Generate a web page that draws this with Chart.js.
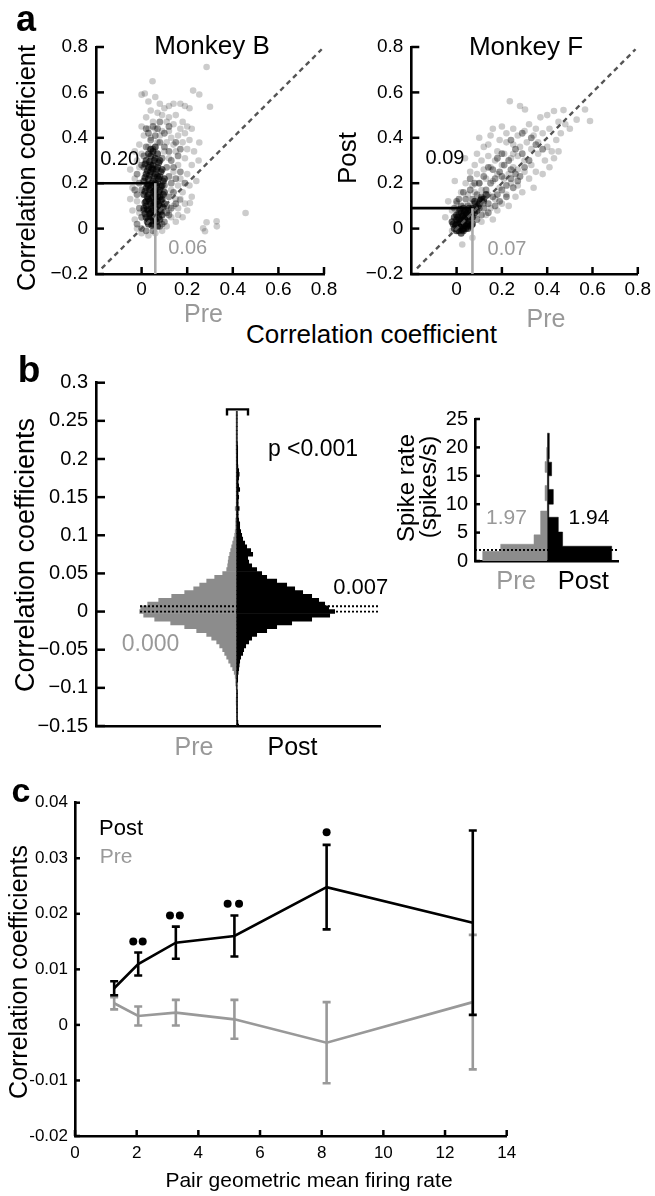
<!DOCTYPE html>
<html><head><meta charset="utf-8">
<script src="https://cdn.jsdelivr.net/npm/chart.js@4.4.1/dist/chart.umd.min.js"></script>
<style>
html,body{margin:0;padding:0;background:#fff;}
body{width:655px;height:1196px;position:relative;overflow:hidden;font-family:'Liberation Sans',Arial,Helvetica,sans-serif;}
canvas{position:absolute;}
.t{position:absolute;white-space:nowrap;line-height:1;}
</style></head><body>
<canvas id="cA1" width="345" height="305" style="left:0;top:0"></canvas>
<canvas id="cA2" width="325" height="305" style="left:330px;top:0"></canvas>
<canvas id="cB" width="400" height="400" style="left:0;top:360px"></canvas>
<canvas id="cI" width="220" height="180" style="left:420px;top:400px"></canvas>
<canvas id="cC" width="540" height="416" style="left:0;top:780px"></canvas>
<script>
// ---------------- DATA ----------------
// Panel a: Monkey B (x = Pre, y = Post correlation coefficient)
const bHalo = [[0.285,0.712],[0.048,0.649],[0.014,0.595],[0.226,0.608],[0.253,0.591],[0.30,0.537],[0.253,0.379],[0.456,0.069],[0.285,0.028],[0.329,0.032],[0.27,0.001],[0.278,-0.012],[0.33,0.01],[0.212,0.113],[0.168,0.126],
[0.0,0.59],[0.03,0.56],[0.06,0.58],[0.08,0.55],[0.1,0.53],[0.12,0.54],[0.14,0.55],[0.17,0.55],[0.19,0.54],[0.21,0.53],[0.04,0.52],[0.07,0.51],[0.09,0.5],[0.12,0.49],[0.15,0.5],[0.18,0.47],[0.2,0.45],[0.02,0.49],[0.05,0.47],[0.11,0.47],[0.14,0.46],[0.17,0.44],[0.19,0.42],[0.22,0.44],[0.16,0.41],[0.21,0.39],[0.0,0.45],[0.03,0.44],[0.06,0.44],[0.09,0.43],[0.12,0.43],[0.01,0.41],[0.04,0.4],[0.08,0.41],[0.13,0.4],[0.18,0.38],[0.2,0.35],[0.23,0.34],[0.19,0.31],[0.22,0.28],[0.2,0.24],[0.17,0.22],[0.21,0.19],[0.18,0.16],[0.22,0.14],[0.19,0.11],[0.16,0.09],[0.15,0.13],[0.13,0.05],[0.15,0.03],[0.11,0.01],[0.09,-0.01],[0.06,-0.02],[0.03,-0.03],[0.0,-0.02],[-0.02,0.0],[-0.03,0.04],[-0.04,0.08],[-0.05,0.13],[-0.04,0.18],[-0.03,0.22],[-0.05,0.26],[-0.02,0.3],[-0.03,0.34],[-0.01,0.37],[0.0,0.33],[-0.01,0.27],[-0.02,0.12],[-0.01,0.07],[0.15,0.34],[0.16,0.28],[0.14,0.25],[0.16,0.19],[0.13,0.17],[0.17,0.13],[0.14,0.1],[0.12,0.08],[0.16,0.06],[0.18,0.05],[0.2,0.08],[0.24,0.21],[0.25,0.3],[0.03,0.36],[0.07,0.38],[0.11,0.38],[0.14,0.37],[0.05,0.33],[0.1,0.34],[0.12,0.31]];
const bMid = [[-0.02,0.02],[0.0,0.05],[-0.01,0.09],[-0.02,0.15],[-0.01,0.2],[-0.02,0.24],[0.0,0.28],[0.01,0.32],[0.02,0.36],[0.04,0.39],[0.06,0.41],[0.08,0.38],[0.1,0.36],[0.12,0.34],[0.13,0.3],[0.14,0.27],[0.12,0.23],[0.13,0.2],[0.12,0.14],[0.11,0.1],[0.12,0.06],[0.1,0.03],[0.08,0.01],[0.05,-0.01],[0.02,-0.01],[0.0,0.0],[0.03,0.42],[0.07,0.44],[0.1,0.42],[0.05,0.35],[0.09,0.31],[0.11,0.27],[0.1,0.19],[0.11,0.07],[0.09,0.02],[0.01,0.27],[0.0,0.17],[0.01,0.08],[0.15,0.22],[0.14,0.16],[0.15,0.11],[0.13,0.09],[0.16,0.32],[0.08,0.47],[0.05,0.45],[0.12,0.45],[0.15,0.38],[0.17,0.35],[0.17,0.25],[0.19,0.2],[-0.03,0.17],[0.02,0.44]];
const bCore = [[0.02,0.3],[0.04,0.32],[0.06,0.31],[0.08,0.3],[0.03,0.27],[0.05,0.28],[0.07,0.27],[0.09,0.26],[0.02,0.24],[0.04,0.25],[0.06,0.24],[0.08,0.23],[0.1,0.22],[0.01,0.21],[0.03,0.22],[0.05,0.21],[0.07,0.2],[0.09,0.19],[0.02,0.18],[0.04,0.18],[0.06,0.17],[0.08,0.17],[0.1,0.16],[0.01,0.15],[0.03,0.15],[0.05,0.14],[0.07,0.14],[0.09,0.13],[0.02,0.12],[0.04,0.11],[0.06,0.11],[0.08,0.1],[0.1,0.11],[0.01,0.09],[0.03,0.08],[0.05,0.08],[0.07,0.07],[0.09,0.06],[0.02,0.05],[0.04,0.05],[0.06,0.04],[0.08,0.04],[0.03,0.02],[0.05,0.02],[0.07,0.01],[0.04,0.35],[0.06,0.36],[0.05,0.19],[0.03,0.13],[0.06,0.06],[0.05,0.26],[0.07,0.23],[0.04,0.07],[0.06,0.15],[0.08,0.08],[0.02,0.1],[0.05,0.1],[0.07,0.12],[0.03,0.19],[0.05,0.16],[0.04,0.28],[0.06,0.2],[0.08,0.14],[0.03,0.04],[0.05,0.05],
[0.015,0.285],[0.035,0.295],[0.055,0.3],[0.075,0.29],[0.025,0.255],[0.045,0.265],[0.065,0.26],[0.085,0.25],[0.015,0.225],[0.035,0.235],[0.055,0.23],[0.075,0.22],[0.095,0.21],[0.025,0.195],[0.045,0.2],[0.065,0.19],[0.085,0.185],[0.015,0.165],[0.035,0.17],[0.055,0.165],[0.075,0.16],[0.095,0.15],[0.025,0.14],[0.045,0.135],[0.065,0.13],[0.085,0.125],[0.015,0.115],[0.035,0.12],[0.055,0.115],[0.075,0.105],[0.095,0.095],[0.025,0.085],[0.045,0.09],[0.065,0.085],[0.085,0.075],[0.015,0.065],[0.035,0.065],[0.055,0.06],[0.075,0.05],[0.045,0.035],[0.065,0.03],[0.025,0.03],[0.045,0.015],[0.05,0.34],[0.03,0.33],[0.07,0.33]];
const bMeans = {pre: 0.06, post: 0.20};

// Panel a: Monkey F
const fHalo = [[0.235,0.561],[0.302,0.525],[0.28,0.54],[0.589,0.474],[0.567,0.525],[0.472,0.522],[0.43,0.518],[0.4,0.5],[0.48,0.46],[0.45,0.47],[0.37,0.49],[0.34,0.41],[0.44,0.39],[0.34,0.18],[0.43,0.31],[0.38,0.24],[0.1,0.4],[0.15,0.41],[0.16,0.44],[0.12,0.36],[0.037,0.31],[-0.008,0.21],[-0.037,0.12],[-0.05,0.05],[-0.02,-0.01],[0.025,-0.07],[0.07,-0.04],
[0.2,0.45],[0.22,0.42],[0.25,0.44],[0.27,0.41],[0.3,0.43],[0.32,0.46],[0.35,0.44],[0.38,0.42],[0.41,0.44],[0.36,0.38],[0.4,0.36],[0.42,0.34],[0.39,0.3],[0.36,0.33],[0.33,0.35],[0.31,0.38],[0.28,0.36],[0.25,0.37],[0.22,0.38],[0.19,0.39],[0.18,0.34],[0.21,0.33],[0.24,0.31],[0.27,0.32],[0.3,0.3],[0.33,0.28],[0.35,0.25],[0.32,0.22],[0.3,0.25],[0.27,0.26],[0.25,0.27],[0.23,0.24],[0.2,0.28],[0.17,0.3],[0.14,0.32],[0.11,0.3],[0.08,0.28],[0.06,0.25],[0.09,0.24],[0.12,0.26],[0.15,0.27],[0.18,0.24],[0.21,0.22],[0.24,0.2],[0.27,0.19],[0.29,0.16],[0.26,0.14],[0.22,0.15],[0.19,0.18],[0.16,0.21],[0.13,0.22],[0.1,0.2],[0.07,0.19],[0.04,0.2],[0.02,0.16],[0.05,0.15],[0.08,0.16],[0.11,0.17],[0.14,0.15],[0.17,0.13],[0.2,0.11],[0.23,0.1],[0.18,0.08],[0.15,0.09],[0.12,0.11],[0.09,0.12],[0.06,0.11],[0.03,0.1],[0.0,0.11],[-0.02,0.08],[0.13,0.06],[0.16,0.04],[0.11,0.03],[0.08,0.06],[0.25,0.33],[0.5,0.44],[0.46,0.42],[0.53,0.48],[0.14,0.37],[0.09,0.33],[0.45,0.34],[0.41,0.27]];
const fMid = [[0.05,0.1],[0.08,0.11],[0.1,0.09],[0.12,0.12],[0.14,0.11],[0.16,0.14],[0.18,0.15],[0.2,0.17],[0.22,0.19],[0.24,0.22],[0.26,0.24],[0.28,0.23],[0.3,0.27],[0.15,0.2],[0.17,0.22],[0.19,0.25],[0.21,0.28],[0.23,0.3],[0.13,0.17],[0.11,0.14],[0.09,0.15],[0.07,0.13],[0.1,0.2],[0.12,0.23],[0.14,0.27],[0.16,0.26],[0.18,0.31],[0.2,0.33],[0.08,0.2],[0.06,0.17],[0.04,0.13],[0.02,0.1],[0.01,0.13],[0.03,0.16],[0.25,0.18],[0.27,0.21],[0.22,0.14],[0.19,0.12],[0.17,0.1],[0.14,0.07],[0.11,0.06],[0.09,0.04],[0.12,0.09],[0.32,0.3],[0.29,0.33],[0.26,0.35],[0.35,0.37],[0.38,0.35],[0.33,0.4],[0.24,0.39],[0.29,0.42],[0.06,0.22],[-0.01,0.09],[0.0,0.12],[0.24,0.26],[0.2,0.23]];
const fCore = [[-0.01,0.0],[0.0,0.02],[0.01,0.04],[0.02,0.01],[0.03,0.03],[0.04,0.05],[0.05,0.02],[0.06,0.04],[0.01,-0.01],[0.03,-0.01],[0.05,0.0],[0.0,0.06],[0.02,0.07],[0.04,0.08],[0.06,0.07],[0.07,0.05],[-0.02,0.03],[0.02,0.04],[0.04,0.02],[0.03,0.06],[0.01,0.02],[0.05,0.05],[0.0,0.04],[0.02,-0.02],[0.04,0.0],[0.06,0.01],[0.01,0.07],[0.03,0.09],[0.05,0.08],[0.08,0.07],[0.07,0.09],[0.09,0.08],[0.1,0.11],[0.08,0.12],[0.11,0.13],[0.13,0.15],[0.0,-0.01],[-0.01,0.05],[0.03,0.0],[0.07,0.02],
[-0.005,0.015],[0.015,0.005],[0.035,0.015],[0.055,0.03],[0.015,0.03],[0.035,0.045],[0.005,0.05],[0.025,0.055],[0.045,0.065],[0.065,0.06],[0.015,0.085],[0.035,0.075],[0.055,0.09],[0.075,0.08],[0.095,0.1],[0.085,0.095],[0.105,0.125],[0.12,0.13],[0.025,-0.005],[0.045,0.01],[-0.015,0.02],[0.065,0.015]];
const fMeans = {pre: 0.07, post: 0.09};
const diagRange = [-0.175, 0.79];

// Panel b: histogram of correlation coefficients (bin centres, counts per bin)
const histBins = [-0.150,-0.145,-0.140,-0.135,-0.130,-0.125,-0.120,-0.115,-0.110,-0.105,
-0.100,-0.095,-0.090,-0.085,-0.080,-0.075,-0.070,-0.065,-0.060,-0.055,
-0.050,-0.045,-0.040,-0.035,-0.030,-0.025,-0.020,-0.015,-0.010,-0.005,
0.000,0.005,0.010,0.015,0.020,0.025,0.030,0.035,0.040,0.045,
0.050,0.055,0.060,0.065,0.070,0.075,0.080,0.085,0.090,0.095,
0.100,0.105,0.110,0.115,0.120,0.125,0.130,0.135,0.140,0.145,
0.150,0.155,0.160,0.165,0.170,0.175,0.180,0.185,0.190,0.195,
0.200,0.205,0.210,0.215,0.220,0.225,0.230,0.235,0.240,0.245,
0.250,0.255,0.260];
const preHist = [0,0,0,0,0.3,0.3,0.5,0.5,0.3,0.3,
0.5,1,1,1.5,2.5,4,6,8,10,12,
14,17,20,25,30,40,52,66,82,93,
97,96,89,78,65,52,43,37,30,22,
14,10,9,8.5,8,7,6,5,4,3,
2,1.5,1,1,1,0.5,0.5,1.5,0.5,0.5,
0.5,0.5,0.5,0.5,0.5,0.5,0.5,0.5,0.5,0.5,
0.5,0.5,0.6,0.6,0.6,0.6,0.6,0.6,0.6,0.6,
0.6,0.6,0.6];
const postHist = [2,1.2,0.8,0.8,0.8,0.8,0.8,0.8,0.8,0.8,
0.5,0.5,1,1,1.5,2,2.5,3,4,6,
7,9,12,15,20,30,40,55,75,93,
98,92,88,82,75,66,58,50,40,30,
25,20,15,12,11,16,14,10,8,6,
5,4,3,3,2,1.5,1.5,2.5,1.5,1.5,
2,1.5,3,2,1.5,2,2.5,2,1.2,1,
1,1,1,1,0.8,0.6,0.6,0.6,0.6,0.6,
0.6,0.6,0.6];
const histMedians = {pre: 0.000, post: 0.007};
const histRange = [-140.7, 143.3];

// Panel b inset: spike rate histograms (bin low edge, high edge, count)
const preRateLo  = [0, 1.7, 2.95, 4.6, 10.6, 15.6, 17.5];
const preRateHi  = [1.7, 2.95, 4.6, 8.8, 13.3, 17.5, 20];
const preRateN   = [64.6, 46.6, 13.3, 6.7, 2.3, 2.3, 0.7];
const postRateLo = [0, 2.6, 5.1, 7.7, 10, 12.6, 15, 17.4, 18];
const postRateHi = [2.6, 5.1, 7.7, 10, 12.6, 15, 17.4, 18, 22.5];
const postRateN  = [64.4, 15.3, 11, 1.5, 6, 1.5, 4.3, 1.5, 2];
const rateMeans = {pre: 1.97, post: 1.94};
const rateRange = [-72.3, 70.7];

// Panel c
const rateX   = [1.27, 2.05, 3.27, 5.17, 8.16, 12.9];
const postY   = [0.0066, 0.01095, 0.0148, 0.016, 0.0248, 0.0184];
const postErr = [0.00126, 0.00207, 0.0029, 0.0037, 0.0076, 0.0166];
const preY    = [0.0039, 0.0016, 0.0022, 0.001, -0.0032, 0.0041];
const preErr  = [0.0011, 0.0017, 0.0023, 0.0035, 0.0073, 0.0121];
const sigX    = [1.89, 2.195, 3.08, 3.4, 4.95, 5.32, 8.16];
const sigY    = [0.015, 0.015, 0.0197, 0.0197, 0.0218, 0.0218, 0.0347];

// ---------------- HELPERS ----------------
Chart.defaults.font.family = "'Liberation Sans', Arial, Helvetica, sans-serif";
Chart.defaults.color = '#000';
const fmtU = v => String(+(+v).toFixed(4)).replace('-', '\u2212');
const fmtH = v => String(+(+v).toFixed(4));
const pts = arr => arr.map(p => ({x: p[0], y: p[1]}));

const inTicks = {
  id: 'inTicks',
  afterDraw(chart, args, o) {
    const ctx = chart.ctx, a = chart.chartArea;
    ctx.save(); ctx.strokeStyle = '#000'; ctx.lineWidth = o.w || 2.5;
    if (o.x) chart.scales.x.ticks.forEach(t => {
      const p = chart.scales.x.getPixelForValue(t.value);
      ctx.beginPath(); ctx.moveTo(p, a.bottom); ctx.lineTo(p, a.bottom - o.x); ctx.stroke();
    });
    if (o.y) chart.scales.y.ticks.forEach(t => {
      const p = chart.scales.y.getPixelForValue(t.value);
      ctx.beginPath(); ctx.moveTo(a.left, p); ctx.lineTo(a.left + o.y, p); ctx.stroke();
    });
    ctx.restore();
  }
};
const border = {display: true, color: '#000', width: 2.6};
const noGrid = {display: false, drawTicks: false};
const basePlugins = {legend: {display: false}, tooltip: {enabled: false}};

// ---------------- PANEL a ----------------
function scatterPanel(id, padL, padR, halo, mid, core, means) {
  new Chart(document.getElementById(id), {
    type: 'scatter',
    data: {datasets: [
      {type: 'line', data: [{x: diagRange[0], y: diagRange[0]}, {x: diagRange[1], y: diagRange[1]}], borderColor: '#555', borderWidth: 2.4, borderDash: [5, 4], pointRadius: 0},
      {type: 'line', data: [{x: means.pre, y: -0.2}, {x: means.pre, y: means.post}], borderColor: '#aaa', borderWidth: 2.6, pointRadius: 0},
      {data: pts(core), backgroundColor: 'rgba(0,0,0,0.62)', pointRadius: 3.5, pointBorderWidth: 0},
      {data: pts(mid), backgroundColor: 'rgba(0,0,0,0.4)', pointRadius: 3.4, pointBorderWidth: 0},
      {data: pts(halo), backgroundColor: 'rgba(0,0,0,0.2)', pointRadius: 3.3, pointBorderWidth: 0},
      {type: 'line', data: [{x: -0.2, y: means.post}, {x: means.pre, y: means.post}], borderColor: '#000', borderWidth: 2.6, pointRadius: 0}
    ]},
    options: {
      responsive: false, animation: false,
      layout: {padding: {left: padL, right: padR, top: 47, bottom: 6}},
      plugins: Object.assign({inTicks: {x: 7, y: 8}}, basePlugins),
      scales: {
        x: {type: 'linear', min: -0.2, max: 0.8, grid: noGrid, border: border,
            ticks: {stepSize: 0.2, padding: 4, font: {size: 19}, callback: fmtU},
            afterBuildTicks: s => { s.ticks = s.ticks.filter(t => t.value > -0.1); },
            afterFit: s => { s.height = 25; }},
        y: {type: 'linear', min: -0.2, max: 0.8, grid: noGrid, border: border,
            ticks: {stepSize: 0.2, padding: 8, font: {size: 19}, callback: fmtU},
            afterFit: s => { s.width = 60; }}
      }
    },
    plugins: [inTicks]
  });
}
scatterPanel('cA1', 36, 21, bHalo, bMid, bCore, bMeans);
scatterPanel('cA2', 21.3, 16.7, fHalo, fMid, fCore, fMeans);

// ---------------- PANEL b ----------------
new Chart(document.getElementById('cB'), {
  type: 'bar',
  data: {datasets: [
    {type: 'line', data: [{x: -96.7, y: histMedians.post}, {x: histRange[1], y: histMedians.post}], borderColor: '#000', borderWidth: 1.8, borderDash: [2, 2], pointRadius: 0},
    {type: 'line', data: [{x: -96.7, y: histMedians.pre}, {x: histRange[1], y: histMedians.pre}], borderColor: '#000', borderWidth: 1.8, borderDash: [2, 2], pointRadius: 0},
    {type: 'line', data: [{x: -9.7, y: 0.257}, {x: -9.7, y: 0.265}, {x: 11.3, y: 0.265}, {x: 11.3, y: 0.257}], borderColor: '#000', borderWidth: 2.4, pointRadius: 0},
    {data: histBins.map((b, i) => ({x: postHist[i], y: b})), backgroundColor: '#000'},
    {data: histBins.map((b, i) => ({x: -preHist[i], y: b})), backgroundColor: '#8c8c8c'}
  ]},
  options: {
    indexAxis: 'y', responsive: false, animation: false,
    datasets: {bar: {grouped: false, barPercentage: 1, categoryPercentage: 1, borderWidth: 0}},
    layout: {padding: {left: 36, right: 20, top: 22.7, bottom: 24}},
    plugins: Object.assign({inTicks: {y: 9}}, basePlugins),
    scales: {
      x: {type: 'linear', min: histRange[0], max: histRange[1], offset: false, grid: noGrid, border: border,
          ticks: {display: false}, afterFit: s => { s.height = 10; }},
      y: {type: 'linear', min: -0.15, max: 0.3, offset: false, grid: noGrid, border: border,
          ticks: {stepSize: 0.05, padding: 8, font: {size: 20}, callback: fmtU},
          afterFit: s => { s.width = 60; }}
    }
  },
  plugins: [inTicks]
});

// ---------------- PANEL b inset ----------------
function stepShape(lo, hi, n, sign) {
  const out = [{x: 0, y: lo[0]}];
  for (let i = 0; i < lo.length; i++) {
    if (i > 0 && lo[i] !== hi[i - 1]) { out.push({x: 0, y: hi[i - 1]}); out.push({x: 0, y: lo[i]}); }
    out.push({x: sign * n[i], y: lo[i]});
    out.push({x: sign * n[i], y: hi[i]});
  }
  out.push({x: 0, y: hi[hi.length - 1]});
  return out;
}
new Chart(document.getElementById('cI'), {
  type: 'line',
  data: {datasets: [
    {data: [{x: rateRange[0], y: rateMeans.pre}, {x: rateRange[1], y: rateMeans.pre}], borderColor: '#000', borderWidth: 1.6, borderDash: [2, 2], pointRadius: 0},
    {data: [{x: rateRange[0], y: rateMeans.post}, {x: rateRange[1], y: rateMeans.post}], borderColor: '#000', borderWidth: 1.6, borderDash: [2, 2], pointRadius: 0},
    {data: stepShape(postRateLo, postRateHi, postRateN, 1), borderColor: '#000', borderWidth: 0.5, backgroundColor: '#000', fill: 'shape', pointRadius: 0},
    {data: stepShape(preRateLo, preRateHi, preRateN, -1), borderColor: '#8c8c8c', borderWidth: 0.5, backgroundColor: '#8c8c8c', fill: 'shape', pointRadius: 0}
  ]},
  options: {
    responsive: false, animation: false,
    layout: {padding: {left: 10, right: 22, top: 15, bottom: 8.3}},
    plugins: Object.assign({inTicks: {y: 5}}, basePlugins),
    scales: {
      x: {type: 'linear', min: rateRange[0], max: rateRange[1], grid: noGrid, border: border,
          ticks: {display: false}, afterFit: s => { s.height = 10; }},
      y: {type: 'linear', min: 0, max: 25, grid: noGrid, border: border,
          ticks: {stepSize: 5, padding: 7, font: {size: 20}},
          afterFit: s => { s.width = 45; }}
    }
  },
  plugins: [inTicks]
});

// ---------------- PANEL c ----------------
const errSpec = {
  1: {y: postY, e: postErr, color: '#000'},
  2: {y: preY, e: preErr, color: '#999'}
};
const errBars = {
  id: 'errBars',
  afterDatasetDraw(chart, args) {
    const s = errSpec[args.index]; if (!s) return;
    const xs = chart.scales.x, ys = chart.scales.y, ctx = chart.ctx;
    ctx.save(); ctx.strokeStyle = s.color; ctx.lineWidth = 2.6;
    rateX.forEach((xv, i) => {
      const px = xs.getPixelForValue(xv);
      const t = ys.getPixelForValue(s.y[i] + s.e[i]);
      const b = ys.getPixelForValue(s.y[i] - s.e[i]);
      ctx.beginPath();
      ctx.moveTo(px, t); ctx.lineTo(px, b);
      ctx.moveTo(px - 4, t); ctx.lineTo(px + 4, t);
      ctx.moveTo(px - 4, b); ctx.lineTo(px + 4, b);
      ctx.stroke();
    });
    ctx.restore();
  }
};
new Chart(document.getElementById('cC'), {
  type: 'line',
  data: {datasets: [
    {data: sigX.map((x, i) => ({x: x, y: sigY[i]})), showLine: false, pointRadius: 4, pointBackgroundColor: '#000', pointBorderWidth: 0},
    {data: rateX.map((x, i) => ({x: x, y: postY[i]})), borderColor: '#000', borderWidth: 2.6, pointRadius: 0},
    {data: rateX.map((x, i) => ({x: x, y: preY[i]})), borderColor: '#999', borderWidth: 2.6, pointRadius: 0}
  ]},
  options: {
    responsive: false, animation: false,
    layout: {padding: {left: 15, right: 33.3, top: 22.7, bottom: 30}},
    plugins: Object.assign({inTicks: {x: 6, y: 5}}, basePlugins),
    scales: {
      x: {type: 'linear', min: 0, max: 14, grid: noGrid, border: border,
          ticks: {stepSize: 2, padding: 7, font: {size: 17}},
          afterFit: s => { s.height = 30; }},
      y: {type: 'linear', min: -0.02, max: 0.04, grid: noGrid, border: border,
          ticks: {stepSize: 0.01, padding: 7, font: {size: 17}, callback: fmtH},
          afterFit: s => { s.width = 60; }}
    }
  },
  plugins: [inTicks, errBars]
});

// ---------------- TEXT ----------------
function T(txt, cx, cy, size, color, rot, weight) {
  const d = document.createElement('div');
  d.className = 't';
  d.textContent = txt;
  d.style.left = cx + 'px'; d.style.top = cy + 'px';
  d.style.fontSize = size + 'px';
  d.style.color = color || '#000';
  if (weight) d.style.fontWeight = weight;
  d.style.transform = 'translate(-50%,-50%)' + (rot ? ' rotate(' + rot + 'deg)' : '');
  document.body.appendChild(d);
}
T('a', 26, 19, 36, '#000', 0, 'bold');
T('Monkey B', 212, 45, 26);
T('Monkey F', 526, 46, 26);
T('Correlation coefficient', 26.5, 168, 25.5, '#000', -90);
T('0.20', 119.7, 157.5, 20);
T('0.06', 187.7, 246.8, 20, '#999');
T('Pre', 203.5, 313, 25, '#999');
T('Correlation coefficient', 371.5, 334, 26);
T('Post', 347, 158, 26, '#000', -90);
T('0.09', 445, 157, 20);
T('0.07', 507, 247.5, 20, '#999');
T('Pre', 546, 318, 25, '#999');

T('b', 29, 368.5, 37, '#000', 0, 'bold');
T('Correlation coefficients', 25, 554.5, 27, '#000', -90);
T('p <0.001', 313, 447.5, 23);
T('0.007', 360.8, 586.7, 22);
T('0.000', 150.5, 643.3, 23, '#999');
T('Pre', 194, 746, 25, '#999');
T('Post', 292.5, 746, 25);

T('Spike rate', 405.8, 487.5, 24, '#000', -90);
T('(spikes/s)', 427.5, 487, 24, '#000', -90);
T('1.97', 506.4, 515.8, 21, '#999');
T('1.94', 589, 515.8, 21);
T('Pre', 516, 580.5, 25.5, '#999');
T('Post', 583.3, 580.5, 25.5);

T('c', 21, 790, 34, '#000', 0, 'bold');
T('Post', 121, 828, 22);
T('Pre', 116, 855, 21, '#999');
T('Correlation coefficients', 18.3, 971.7, 25, '#000', -90);
T('Pair geometric mean firing rate', 309, 1179, 21);
</script>
</body></html>
